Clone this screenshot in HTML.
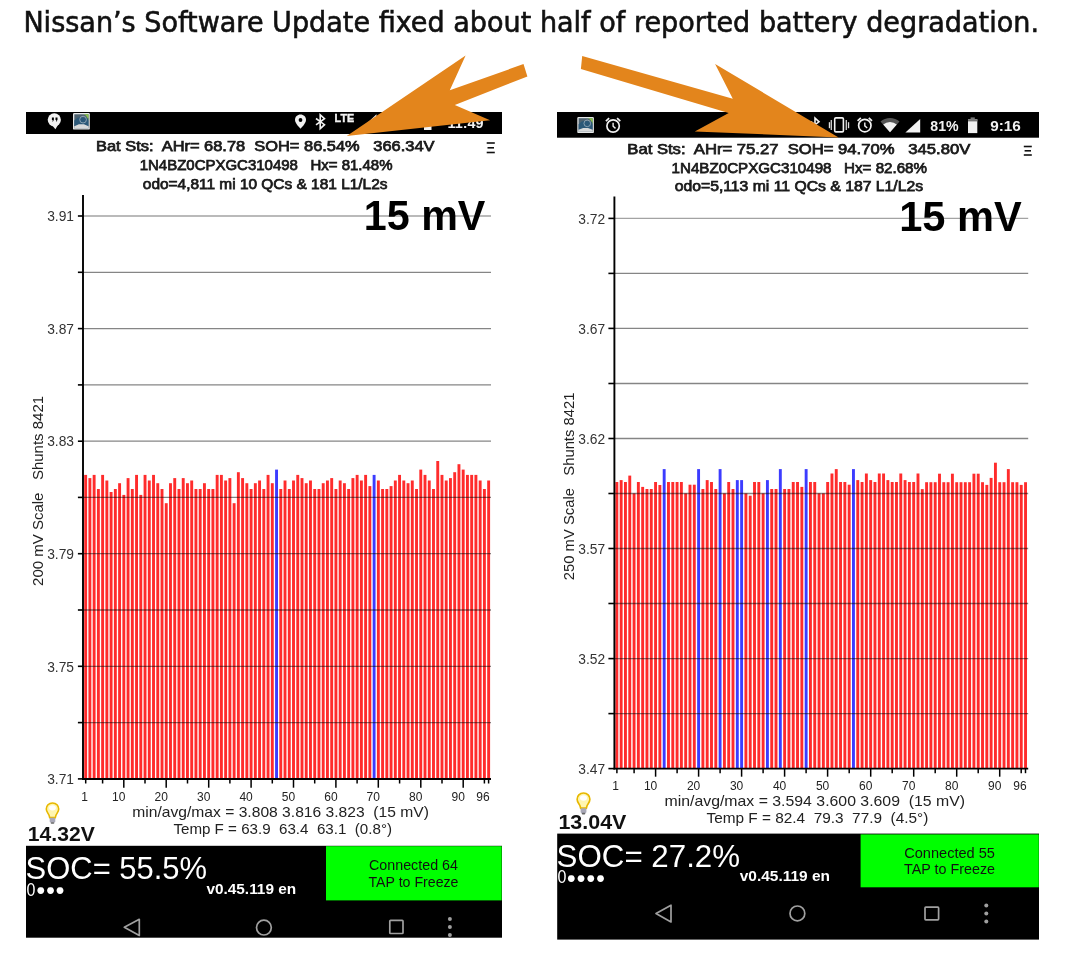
<!DOCTYPE html>
<html><head><meta charset="utf-8"><title>Nissan battery</title><style>html,body{margin:0;padding:0;background:#fff;}body{width:1069px;height:967px;position:relative;overflow:hidden;}text{white-space:pre;}</style></head><body>
<svg width="1069" height="967" viewBox="0 0 1069 967" style="position:absolute;left:0;top:0">
<g font-family="'Liberation Sans', Arial, sans-serif">
<rect x="84.20" y="474.9" width="2.9" height="304.1" fill="#ff2c2c"/>
<rect x="88.44" y="478.1" width="2.9" height="300.9" fill="#ff2c2c"/>
<rect x="92.68" y="474.9" width="2.9" height="304.1" fill="#ff2c2c"/>
<rect x="96.93" y="489.0" width="2.9" height="290.0" fill="#ff2c2c"/>
<rect x="101.17" y="474.9" width="2.9" height="304.1" fill="#ff2c2c"/>
<rect x="105.41" y="480.5" width="2.9" height="298.5" fill="#ff2c2c"/>
<rect x="109.65" y="492.0" width="2.9" height="287.0" fill="#ff2c2c"/>
<rect x="113.89" y="489.0" width="2.9" height="290.0" fill="#ff2c2c"/>
<rect x="118.14" y="483.2" width="2.9" height="295.8" fill="#ff2c2c"/>
<rect x="122.38" y="494.9" width="2.9" height="284.1" fill="#ff2c2c"/>
<rect x="126.62" y="478.1" width="2.9" height="300.9" fill="#ff2c2c"/>
<rect x="130.86" y="489.0" width="2.9" height="290.0" fill="#ff2c2c"/>
<rect x="135.10" y="474.9" width="2.9" height="304.1" fill="#ff2c2c"/>
<rect x="139.35" y="494.9" width="2.9" height="284.1" fill="#ff2c2c"/>
<rect x="143.59" y="474.9" width="2.9" height="304.1" fill="#ff2c2c"/>
<rect x="147.83" y="480.5" width="2.9" height="298.5" fill="#ff2c2c"/>
<rect x="152.07" y="474.9" width="2.9" height="304.1" fill="#ff2c2c"/>
<rect x="156.31" y="483.2" width="2.9" height="295.8" fill="#ff2c2c"/>
<rect x="160.56" y="489.0" width="2.9" height="290.0" fill="#ff2c2c"/>
<rect x="164.80" y="503.2" width="2.9" height="275.8" fill="#ff2c2c"/>
<rect x="169.04" y="483.2" width="2.9" height="295.8" fill="#ff2c2c"/>
<rect x="173.28" y="478.1" width="2.9" height="300.9" fill="#ff2c2c"/>
<rect x="177.52" y="489.0" width="2.9" height="290.0" fill="#ff2c2c"/>
<rect x="181.77" y="478.1" width="2.9" height="300.9" fill="#ff2c2c"/>
<rect x="186.01" y="483.2" width="2.9" height="295.8" fill="#ff2c2c"/>
<rect x="190.25" y="480.5" width="2.9" height="298.5" fill="#ff2c2c"/>
<rect x="194.49" y="489.0" width="2.9" height="290.0" fill="#ff2c2c"/>
<rect x="198.73" y="489.0" width="2.9" height="290.0" fill="#ff2c2c"/>
<rect x="202.98" y="483.2" width="2.9" height="295.8" fill="#ff2c2c"/>
<rect x="207.22" y="489.0" width="2.9" height="290.0" fill="#ff2c2c"/>
<rect x="211.46" y="489.0" width="2.9" height="290.0" fill="#ff2c2c"/>
<rect x="215.70" y="474.9" width="2.9" height="304.1" fill="#ff2c2c"/>
<rect x="219.94" y="474.9" width="2.9" height="304.1" fill="#ff2c2c"/>
<rect x="224.19" y="480.5" width="2.9" height="298.5" fill="#ff2c2c"/>
<rect x="228.43" y="478.1" width="2.9" height="300.9" fill="#ff2c2c"/>
<rect x="232.67" y="503.2" width="2.9" height="275.8" fill="#ff2c2c"/>
<rect x="236.91" y="472.2" width="2.9" height="306.8" fill="#ff2c2c"/>
<rect x="241.15" y="478.1" width="2.9" height="300.9" fill="#ff2c2c"/>
<rect x="245.40" y="483.2" width="2.9" height="295.8" fill="#ff2c2c"/>
<rect x="249.64" y="489.0" width="2.9" height="290.0" fill="#ff2c2c"/>
<rect x="253.88" y="483.2" width="2.9" height="295.8" fill="#ff2c2c"/>
<rect x="258.12" y="480.5" width="2.9" height="298.5" fill="#ff2c2c"/>
<rect x="262.36" y="489.0" width="2.9" height="290.0" fill="#ff2c2c"/>
<rect x="266.61" y="474.9" width="2.9" height="304.1" fill="#ff2c2c"/>
<rect x="270.85" y="483.2" width="2.9" height="295.8" fill="#ff2c2c"/>
<rect x="275.09" y="469.6" width="2.9" height="309.4" fill="#3c3cff"/>
<rect x="279.33" y="489.0" width="2.9" height="290.0" fill="#ff2c2c"/>
<rect x="283.57" y="480.5" width="2.9" height="298.5" fill="#ff2c2c"/>
<rect x="287.82" y="489.0" width="2.9" height="290.0" fill="#ff2c2c"/>
<rect x="292.06" y="480.5" width="2.9" height="298.5" fill="#ff2c2c"/>
<rect x="296.30" y="474.9" width="2.9" height="304.1" fill="#ff2c2c"/>
<rect x="300.54" y="478.1" width="2.9" height="300.9" fill="#ff2c2c"/>
<rect x="304.78" y="483.2" width="2.9" height="295.8" fill="#ff2c2c"/>
<rect x="309.03" y="480.5" width="2.9" height="298.5" fill="#ff2c2c"/>
<rect x="313.27" y="489.0" width="2.9" height="290.0" fill="#ff2c2c"/>
<rect x="317.51" y="489.0" width="2.9" height="290.0" fill="#ff2c2c"/>
<rect x="321.75" y="483.2" width="2.9" height="295.8" fill="#ff2c2c"/>
<rect x="325.99" y="480.5" width="2.9" height="298.5" fill="#ff2c2c"/>
<rect x="330.24" y="478.1" width="2.9" height="300.9" fill="#ff2c2c"/>
<rect x="334.48" y="489.0" width="2.9" height="290.0" fill="#ff2c2c"/>
<rect x="338.72" y="480.5" width="2.9" height="298.5" fill="#ff2c2c"/>
<rect x="342.96" y="483.2" width="2.9" height="295.8" fill="#ff2c2c"/>
<rect x="347.20" y="489.0" width="2.9" height="290.0" fill="#ff2c2c"/>
<rect x="351.45" y="478.1" width="2.9" height="300.9" fill="#ff2c2c"/>
<rect x="355.69" y="474.9" width="2.9" height="304.1" fill="#ff2c2c"/>
<rect x="359.93" y="480.5" width="2.9" height="298.5" fill="#ff2c2c"/>
<rect x="364.17" y="474.9" width="2.9" height="304.1" fill="#ff2c2c"/>
<rect x="368.41" y="486.1" width="2.9" height="292.9" fill="#ff2c2c"/>
<rect x="372.66" y="474.9" width="2.9" height="304.1" fill="#3c3cff"/>
<rect x="376.90" y="480.5" width="2.9" height="298.5" fill="#ff2c2c"/>
<rect x="381.14" y="489.0" width="2.9" height="290.0" fill="#ff2c2c"/>
<rect x="385.38" y="489.0" width="2.9" height="290.0" fill="#ff2c2c"/>
<rect x="389.62" y="486.1" width="2.9" height="292.9" fill="#ff2c2c"/>
<rect x="393.87" y="480.5" width="2.9" height="298.5" fill="#ff2c2c"/>
<rect x="398.11" y="474.9" width="2.9" height="304.1" fill="#ff2c2c"/>
<rect x="402.35" y="480.5" width="2.9" height="298.5" fill="#ff2c2c"/>
<rect x="406.59" y="483.2" width="2.9" height="295.8" fill="#ff2c2c"/>
<rect x="410.83" y="480.5" width="2.9" height="298.5" fill="#ff2c2c"/>
<rect x="415.08" y="489.0" width="2.9" height="290.0" fill="#ff2c2c"/>
<rect x="419.32" y="469.6" width="2.9" height="309.4" fill="#ff2c2c"/>
<rect x="423.56" y="474.9" width="2.9" height="304.1" fill="#ff2c2c"/>
<rect x="427.80" y="480.5" width="2.9" height="298.5" fill="#ff2c2c"/>
<rect x="432.04" y="489.0" width="2.9" height="290.0" fill="#ff2c2c"/>
<rect x="436.29" y="461.0" width="2.9" height="318.0" fill="#ff2c2c"/>
<rect x="440.53" y="474.9" width="2.9" height="304.1" fill="#ff2c2c"/>
<rect x="444.77" y="480.5" width="2.9" height="298.5" fill="#ff2c2c"/>
<rect x="449.01" y="478.1" width="2.9" height="300.9" fill="#ff2c2c"/>
<rect x="453.25" y="472.2" width="2.9" height="306.8" fill="#ff2c2c"/>
<rect x="457.50" y="464.2" width="2.9" height="314.8" fill="#ff2c2c"/>
<rect x="461.74" y="469.6" width="2.9" height="309.4" fill="#ff2c2c"/>
<rect x="465.98" y="474.9" width="2.9" height="304.1" fill="#ff2c2c"/>
<rect x="470.22" y="474.9" width="2.9" height="304.1" fill="#ff2c2c"/>
<rect x="474.46" y="474.9" width="2.9" height="304.1" fill="#ff2c2c"/>
<rect x="478.71" y="480.5" width="2.9" height="298.5" fill="#ff2c2c"/>
<rect x="482.95" y="489.0" width="2.9" height="290.0" fill="#ff2c2c"/>
<rect x="487.19" y="480.5" width="2.9" height="298.5" fill="#ff2c2c"/>
<line x1="83" y1="216.0" x2="491" y2="216.0" stroke="rgba(0,0,0,0.36)" stroke-width="1.3"/>
<line x1="83" y1="272.3" x2="491" y2="272.3" stroke="rgba(0,0,0,0.48)" stroke-width="1.3"/>
<line x1="83" y1="328.6" x2="491" y2="328.6" stroke="rgba(0,0,0,0.48)" stroke-width="1.3"/>
<line x1="83" y1="384.9" x2="491" y2="384.9" stroke="rgba(0,0,0,0.48)" stroke-width="1.3"/>
<line x1="83" y1="441.2" x2="491" y2="441.2" stroke="rgba(0,0,0,0.48)" stroke-width="1.3"/>
<line x1="83" y1="497.4" x2="491" y2="497.4" stroke="rgba(0,0,0,0.48)" stroke-width="1.3"/>
<line x1="83" y1="553.7" x2="491" y2="553.7" stroke="rgba(0,0,0,0.48)" stroke-width="1.3"/>
<line x1="83" y1="610.0" x2="491" y2="610.0" stroke="rgba(0,0,0,0.48)" stroke-width="1.3"/>
<line x1="83" y1="666.3" x2="491" y2="666.3" stroke="rgba(0,0,0,0.48)" stroke-width="1.3"/>
<line x1="83" y1="722.6" x2="491" y2="722.6" stroke="rgba(0,0,0,0.48)" stroke-width="1.3"/>
<line x1="77.9" y1="216.0" x2="83" y2="216.0" stroke="#000" stroke-width="1.6"/>
<text x="74.0" y="221.2" font-size="13.8" font-weight="normal" fill="#333" text-anchor="end">3.91</text>
<line x1="77.9" y1="272.3" x2="83" y2="272.3" stroke="#000" stroke-width="1.6"/>
<line x1="77.9" y1="328.6" x2="83" y2="328.6" stroke="#000" stroke-width="1.6"/>
<text x="74.0" y="333.8" font-size="13.8" font-weight="normal" fill="#333" text-anchor="end">3.87</text>
<line x1="77.9" y1="384.9" x2="83" y2="384.9" stroke="#000" stroke-width="1.6"/>
<line x1="77.9" y1="441.2" x2="83" y2="441.2" stroke="#000" stroke-width="1.6"/>
<text x="74.0" y="446.4" font-size="13.8" font-weight="normal" fill="#333" text-anchor="end">3.83</text>
<line x1="77.9" y1="497.4" x2="83" y2="497.4" stroke="#000" stroke-width="1.6"/>
<line x1="77.9" y1="553.7" x2="83" y2="553.7" stroke="#000" stroke-width="1.6"/>
<text x="74.0" y="558.9" font-size="13.8" font-weight="normal" fill="#333" text-anchor="end">3.79</text>
<line x1="77.9" y1="610.0" x2="83" y2="610.0" stroke="#000" stroke-width="1.6"/>
<line x1="77.9" y1="666.3" x2="83" y2="666.3" stroke="#000" stroke-width="1.6"/>
<text x="74.0" y="671.5" font-size="13.8" font-weight="normal" fill="#333" text-anchor="end">3.75</text>
<line x1="77.9" y1="722.6" x2="83" y2="722.6" stroke="#000" stroke-width="1.6"/>
<line x1="77.9" y1="778.9" x2="83" y2="778.9" stroke="#000" stroke-width="1.6"/>
<text x="74.0" y="784.1" font-size="13.8" font-weight="normal" fill="#333" text-anchor="end">3.71</text>
<line x1="83" y1="195" x2="83" y2="779.8" stroke="#000" stroke-width="1.9"/>
<line x1="82.1" y1="779.0" x2="491" y2="779.0" stroke="#000" stroke-width="1.8"/>
<line x1="85.7" y1="779.0" x2="85.7" y2="783.5" stroke="#000" stroke-width="1.5"/>
<line x1="102.6" y1="779.0" x2="102.6" y2="783.5" stroke="#000" stroke-width="1.5"/>
<line x1="123.8" y1="779.0" x2="123.8" y2="787.7" stroke="#000" stroke-width="1.5"/>
<line x1="145.0" y1="779.0" x2="145.0" y2="783.5" stroke="#000" stroke-width="1.5"/>
<line x1="166.2" y1="779.0" x2="166.2" y2="787.7" stroke="#000" stroke-width="1.5"/>
<line x1="187.5" y1="779.0" x2="187.5" y2="783.5" stroke="#000" stroke-width="1.5"/>
<line x1="208.7" y1="779.0" x2="208.7" y2="787.7" stroke="#000" stroke-width="1.5"/>
<line x1="229.9" y1="779.0" x2="229.9" y2="783.5" stroke="#000" stroke-width="1.5"/>
<line x1="251.1" y1="779.0" x2="251.1" y2="787.7" stroke="#000" stroke-width="1.5"/>
<line x1="272.3" y1="779.0" x2="272.3" y2="783.5" stroke="#000" stroke-width="1.5"/>
<line x1="293.5" y1="779.0" x2="293.5" y2="787.7" stroke="#000" stroke-width="1.5"/>
<line x1="314.7" y1="779.0" x2="314.7" y2="783.5" stroke="#000" stroke-width="1.5"/>
<line x1="335.9" y1="779.0" x2="335.9" y2="787.7" stroke="#000" stroke-width="1.5"/>
<line x1="357.1" y1="779.0" x2="357.1" y2="783.5" stroke="#000" stroke-width="1.5"/>
<line x1="378.3" y1="779.0" x2="378.3" y2="787.7" stroke="#000" stroke-width="1.5"/>
<line x1="399.6" y1="779.0" x2="399.6" y2="783.5" stroke="#000" stroke-width="1.5"/>
<line x1="420.8" y1="779.0" x2="420.8" y2="787.7" stroke="#000" stroke-width="1.5"/>
<line x1="442.0" y1="779.0" x2="442.0" y2="783.5" stroke="#000" stroke-width="1.5"/>
<line x1="463.2" y1="779.0" x2="463.2" y2="787.7" stroke="#000" stroke-width="1.5"/>
<line x1="484.4" y1="779.0" x2="484.4" y2="783.5" stroke="#000" stroke-width="1.5"/>
<line x1="488.6" y1="779.0" x2="488.6" y2="783.5" stroke="#000" stroke-width="1.5"/>
<text x="84.5" y="800.5" font-size="12" font-weight="normal" fill="#222" text-anchor="middle">1</text>
<text x="118.8" y="800.5" font-size="12" font-weight="normal" fill="#222" text-anchor="middle">10</text>
<text x="161.2" y="800.5" font-size="12" font-weight="normal" fill="#222" text-anchor="middle">20</text>
<text x="203.7" y="800.5" font-size="12" font-weight="normal" fill="#222" text-anchor="middle">30</text>
<text x="246.1" y="800.5" font-size="12" font-weight="normal" fill="#222" text-anchor="middle">40</text>
<text x="288.5" y="800.5" font-size="12" font-weight="normal" fill="#222" text-anchor="middle">50</text>
<text x="330.9" y="800.5" font-size="12" font-weight="normal" fill="#222" text-anchor="middle">60</text>
<text x="373.3" y="800.5" font-size="12" font-weight="normal" fill="#222" text-anchor="middle">70</text>
<text x="415.8" y="800.5" font-size="12" font-weight="normal" fill="#222" text-anchor="middle">80</text>
<text x="458.2" y="800.5" font-size="12" font-weight="normal" fill="#222" text-anchor="middle">90</text>
<text x="483.0" y="800.5" font-size="12" font-weight="normal" fill="#222" text-anchor="middle">96</text>
<text transform="translate(43.4,490.9) rotate(-90)" x="0" y="0" font-size="14" fill="#222" text-anchor="middle" textLength="190.0" lengthAdjust="spacingAndGlyphs" style="white-space:pre">200 mV Scale   Shunts 8421</text>
<rect x="615.40" y="482.0" width="2.9" height="286.6" fill="#ff2c2c"/>
<rect x="619.70" y="480.1" width="2.9" height="288.5" fill="#ff2c2c"/>
<rect x="624.00" y="482.0" width="2.9" height="286.6" fill="#ff2c2c"/>
<rect x="628.31" y="475.6" width="2.9" height="293.0" fill="#ff2c2c"/>
<rect x="632.61" y="493.4" width="2.9" height="275.2" fill="#ff2c2c"/>
<rect x="636.91" y="482.0" width="2.9" height="286.6" fill="#ff2c2c"/>
<rect x="641.21" y="486.9" width="2.9" height="281.7" fill="#ff2c2c"/>
<rect x="645.51" y="489.0" width="2.9" height="279.6" fill="#ff2c2c"/>
<rect x="649.82" y="489.0" width="2.9" height="279.6" fill="#ff2c2c"/>
<rect x="654.12" y="482.0" width="2.9" height="286.6" fill="#ff2c2c"/>
<rect x="658.42" y="485.0" width="2.9" height="283.6" fill="#ff2c2c"/>
<rect x="662.72" y="469.1" width="2.9" height="299.5" fill="#3c3cff"/>
<rect x="667.02" y="482.0" width="2.9" height="286.6" fill="#ff2c2c"/>
<rect x="671.33" y="482.0" width="2.9" height="286.6" fill="#ff2c2c"/>
<rect x="675.63" y="482.0" width="2.9" height="286.6" fill="#ff2c2c"/>
<rect x="679.93" y="482.0" width="2.9" height="286.6" fill="#ff2c2c"/>
<rect x="684.23" y="493.4" width="2.9" height="275.2" fill="#ff2c2c"/>
<rect x="688.53" y="484.7" width="2.9" height="283.9" fill="#ff2c2c"/>
<rect x="692.84" y="484.7" width="2.9" height="283.9" fill="#ff2c2c"/>
<rect x="697.14" y="469.1" width="2.9" height="299.5" fill="#3c3cff"/>
<rect x="701.44" y="489.0" width="2.9" height="279.6" fill="#ff2c2c"/>
<rect x="705.74" y="480.1" width="2.9" height="288.5" fill="#ff2c2c"/>
<rect x="710.04" y="482.0" width="2.9" height="286.6" fill="#ff2c2c"/>
<rect x="714.35" y="489.0" width="2.9" height="279.6" fill="#ff2c2c"/>
<rect x="718.65" y="469.1" width="2.9" height="299.5" fill="#3c3cff"/>
<rect x="722.95" y="493.4" width="2.9" height="275.2" fill="#ff2c2c"/>
<rect x="727.25" y="482.0" width="2.9" height="286.6" fill="#ff2c2c"/>
<rect x="731.55" y="489.0" width="2.9" height="279.6" fill="#ff2c2c"/>
<rect x="735.86" y="480.1" width="2.9" height="288.5" fill="#3c3cff"/>
<rect x="740.16" y="480.1" width="2.9" height="288.5" fill="#3c3cff"/>
<rect x="744.46" y="493.4" width="2.9" height="275.2" fill="#ff2c2c"/>
<rect x="748.76" y="495.7" width="2.9" height="272.9" fill="#ff2c2c"/>
<rect x="753.06" y="482.0" width="2.9" height="286.6" fill="#ff2c2c"/>
<rect x="757.37" y="482.0" width="2.9" height="286.6" fill="#ff2c2c"/>
<rect x="761.67" y="493.4" width="2.9" height="275.2" fill="#ff2c2c"/>
<rect x="765.97" y="480.1" width="2.9" height="288.5" fill="#3c3cff"/>
<rect x="770.27" y="489.0" width="2.9" height="279.6" fill="#ff2c2c"/>
<rect x="774.57" y="489.0" width="2.9" height="279.6" fill="#ff2c2c"/>
<rect x="778.88" y="469.1" width="2.9" height="299.5" fill="#3c3cff"/>
<rect x="783.18" y="489.0" width="2.9" height="279.6" fill="#ff2c2c"/>
<rect x="787.48" y="489.0" width="2.9" height="279.6" fill="#ff2c2c"/>
<rect x="791.78" y="482.0" width="2.9" height="286.6" fill="#ff2c2c"/>
<rect x="796.08" y="482.0" width="2.9" height="286.6" fill="#ff2c2c"/>
<rect x="800.39" y="486.9" width="2.9" height="281.7" fill="#ff2c2c"/>
<rect x="804.69" y="469.1" width="2.9" height="299.5" fill="#3c3cff"/>
<rect x="808.99" y="482.0" width="2.9" height="286.6" fill="#ff2c2c"/>
<rect x="813.29" y="482.0" width="2.9" height="286.6" fill="#ff2c2c"/>
<rect x="817.59" y="493.4" width="2.9" height="275.2" fill="#ff2c2c"/>
<rect x="821.90" y="493.4" width="2.9" height="275.2" fill="#ff2c2c"/>
<rect x="826.20" y="482.0" width="2.9" height="286.6" fill="#ff2c2c"/>
<rect x="830.50" y="473.5" width="2.9" height="295.1" fill="#ff2c2c"/>
<rect x="834.80" y="469.1" width="2.9" height="299.5" fill="#ff2c2c"/>
<rect x="839.10" y="482.0" width="2.9" height="286.6" fill="#ff2c2c"/>
<rect x="843.41" y="482.0" width="2.9" height="286.6" fill="#ff2c2c"/>
<rect x="847.71" y="484.7" width="2.9" height="283.9" fill="#ff2c2c"/>
<rect x="852.01" y="469.1" width="2.9" height="299.5" fill="#3c3cff"/>
<rect x="856.31" y="480.1" width="2.9" height="288.5" fill="#ff2c2c"/>
<rect x="860.61" y="482.0" width="2.9" height="286.6" fill="#ff2c2c"/>
<rect x="864.92" y="473.5" width="2.9" height="295.1" fill="#ff2c2c"/>
<rect x="869.22" y="480.1" width="2.9" height="288.5" fill="#ff2c2c"/>
<rect x="873.52" y="482.0" width="2.9" height="286.6" fill="#ff2c2c"/>
<rect x="877.82" y="473.5" width="2.9" height="295.1" fill="#ff2c2c"/>
<rect x="882.12" y="473.5" width="2.9" height="295.1" fill="#ff2c2c"/>
<rect x="886.43" y="480.1" width="2.9" height="288.5" fill="#ff2c2c"/>
<rect x="890.73" y="482.0" width="2.9" height="286.6" fill="#ff2c2c"/>
<rect x="895.03" y="482.0" width="2.9" height="286.6" fill="#ff2c2c"/>
<rect x="899.33" y="473.5" width="2.9" height="295.1" fill="#ff2c2c"/>
<rect x="903.63" y="480.1" width="2.9" height="288.5" fill="#ff2c2c"/>
<rect x="907.94" y="482.0" width="2.9" height="286.6" fill="#ff2c2c"/>
<rect x="912.24" y="482.0" width="2.9" height="286.6" fill="#ff2c2c"/>
<rect x="916.54" y="473.5" width="2.9" height="295.1" fill="#ff2c2c"/>
<rect x="920.84" y="489.1" width="2.9" height="279.5" fill="#ff2c2c"/>
<rect x="925.14" y="482.2" width="2.9" height="286.4" fill="#ff2c2c"/>
<rect x="929.45" y="482.2" width="2.9" height="286.4" fill="#ff2c2c"/>
<rect x="933.75" y="482.2" width="2.9" height="286.4" fill="#ff2c2c"/>
<rect x="938.05" y="473.7" width="2.9" height="294.9" fill="#ff2c2c"/>
<rect x="942.35" y="482.2" width="2.9" height="286.4" fill="#ff2c2c"/>
<rect x="946.65" y="482.2" width="2.9" height="286.4" fill="#ff2c2c"/>
<rect x="950.96" y="473.7" width="2.9" height="294.9" fill="#ff2c2c"/>
<rect x="955.26" y="482.2" width="2.9" height="286.4" fill="#ff2c2c"/>
<rect x="959.56" y="482.2" width="2.9" height="286.4" fill="#ff2c2c"/>
<rect x="963.86" y="482.2" width="2.9" height="286.4" fill="#ff2c2c"/>
<rect x="968.16" y="482.2" width="2.9" height="286.4" fill="#ff2c2c"/>
<rect x="972.47" y="473.7" width="2.9" height="294.9" fill="#ff2c2c"/>
<rect x="976.77" y="473.7" width="2.9" height="294.9" fill="#ff2c2c"/>
<rect x="981.07" y="482.2" width="2.9" height="286.4" fill="#ff2c2c"/>
<rect x="985.37" y="484.9" width="2.9" height="283.7" fill="#ff2c2c"/>
<rect x="989.67" y="477.9" width="2.9" height="290.7" fill="#ff2c2c"/>
<rect x="993.98" y="462.7" width="2.9" height="305.9" fill="#ff2c2c"/>
<rect x="998.28" y="482.2" width="2.9" height="286.4" fill="#ff2c2c"/>
<rect x="1002.58" y="482.2" width="2.9" height="286.4" fill="#ff2c2c"/>
<rect x="1006.88" y="469.1" width="2.9" height="299.5" fill="#ff2c2c"/>
<rect x="1011.18" y="482.2" width="2.9" height="286.4" fill="#ff2c2c"/>
<rect x="1015.49" y="482.2" width="2.9" height="286.4" fill="#ff2c2c"/>
<rect x="1019.79" y="484.9" width="2.9" height="283.7" fill="#ff2c2c"/>
<rect x="1024.09" y="482.2" width="2.9" height="286.4" fill="#ff2c2c"/>
<line x1="614.4" y1="218.4" x2="1028.2" y2="218.4" stroke="rgba(0,0,0,0.36)" stroke-width="1.3"/>
<line x1="614.4" y1="273.4" x2="1028.2" y2="273.4" stroke="rgba(0,0,0,0.48)" stroke-width="1.3"/>
<line x1="614.4" y1="328.4" x2="1028.2" y2="328.4" stroke="rgba(0,0,0,0.48)" stroke-width="1.3"/>
<line x1="614.4" y1="383.5" x2="1028.2" y2="383.5" stroke="rgba(0,0,0,0.48)" stroke-width="1.3"/>
<line x1="614.4" y1="438.5" x2="1028.2" y2="438.5" stroke="rgba(0,0,0,0.48)" stroke-width="1.3"/>
<line x1="614.4" y1="493.5" x2="1028.2" y2="493.5" stroke="rgba(0,0,0,0.48)" stroke-width="1.3"/>
<line x1="614.4" y1="548.5" x2="1028.2" y2="548.5" stroke="rgba(0,0,0,0.48)" stroke-width="1.3"/>
<line x1="614.4" y1="603.5" x2="1028.2" y2="603.5" stroke="rgba(0,0,0,0.48)" stroke-width="1.3"/>
<line x1="614.4" y1="658.6" x2="1028.2" y2="658.6" stroke="rgba(0,0,0,0.48)" stroke-width="1.3"/>
<line x1="614.4" y1="713.6" x2="1028.2" y2="713.6" stroke="rgba(0,0,0,0.48)" stroke-width="1.3"/>
<line x1="608.4" y1="218.4" x2="614.4" y2="218.4" stroke="#000" stroke-width="1.6"/>
<text x="605.2" y="223.6" font-size="13.8" font-weight="normal" fill="#333" text-anchor="end">3.72</text>
<line x1="608.4" y1="273.4" x2="614.4" y2="273.4" stroke="#000" stroke-width="1.6"/>
<line x1="608.4" y1="328.4" x2="614.4" y2="328.4" stroke="#000" stroke-width="1.6"/>
<text x="605.2" y="333.6" font-size="13.8" font-weight="normal" fill="#333" text-anchor="end">3.67</text>
<line x1="608.4" y1="383.5" x2="614.4" y2="383.5" stroke="#000" stroke-width="1.6"/>
<line x1="608.4" y1="438.5" x2="614.4" y2="438.5" stroke="#000" stroke-width="1.6"/>
<text x="605.2" y="443.7" font-size="13.8" font-weight="normal" fill="#333" text-anchor="end">3.62</text>
<line x1="608.4" y1="493.5" x2="614.4" y2="493.5" stroke="#000" stroke-width="1.6"/>
<line x1="608.4" y1="548.5" x2="614.4" y2="548.5" stroke="#000" stroke-width="1.6"/>
<text x="605.2" y="553.7" font-size="13.8" font-weight="normal" fill="#333" text-anchor="end">3.57</text>
<line x1="608.4" y1="603.5" x2="614.4" y2="603.5" stroke="#000" stroke-width="1.6"/>
<line x1="608.4" y1="658.6" x2="614.4" y2="658.6" stroke="#000" stroke-width="1.6"/>
<text x="605.2" y="663.8" font-size="13.8" font-weight="normal" fill="#333" text-anchor="end">3.52</text>
<line x1="608.4" y1="713.6" x2="614.4" y2="713.6" stroke="#000" stroke-width="1.6"/>
<line x1="608.4" y1="768.6" x2="614.4" y2="768.6" stroke="#000" stroke-width="1.6"/>
<text x="605.2" y="773.8" font-size="13.8" font-weight="normal" fill="#333" text-anchor="end">3.47</text>
<line x1="614.4" y1="196.6" x2="614.4" y2="769.4" stroke="#000" stroke-width="1.9"/>
<line x1="613.5" y1="768.6" x2="1028.2" y2="768.6" stroke="#000" stroke-width="1.8"/>
<line x1="616.9" y1="768.6" x2="616.9" y2="773.2" stroke="#000" stroke-width="1.5"/>
<line x1="634.1" y1="768.6" x2="634.1" y2="773.2" stroke="#000" stroke-width="1.5"/>
<line x1="655.6" y1="768.6" x2="655.6" y2="776.7" stroke="#000" stroke-width="1.5"/>
<line x1="677.1" y1="768.6" x2="677.1" y2="773.2" stroke="#000" stroke-width="1.5"/>
<line x1="698.6" y1="768.6" x2="698.6" y2="776.7" stroke="#000" stroke-width="1.5"/>
<line x1="720.1" y1="768.6" x2="720.1" y2="773.2" stroke="#000" stroke-width="1.5"/>
<line x1="741.6" y1="768.6" x2="741.6" y2="776.7" stroke="#000" stroke-width="1.5"/>
<line x1="763.1" y1="768.6" x2="763.1" y2="773.2" stroke="#000" stroke-width="1.5"/>
<line x1="784.6" y1="768.6" x2="784.6" y2="776.7" stroke="#000" stroke-width="1.5"/>
<line x1="806.1" y1="768.6" x2="806.1" y2="773.2" stroke="#000" stroke-width="1.5"/>
<line x1="827.6" y1="768.6" x2="827.6" y2="776.7" stroke="#000" stroke-width="1.5"/>
<line x1="849.2" y1="768.6" x2="849.2" y2="773.2" stroke="#000" stroke-width="1.5"/>
<line x1="870.7" y1="768.6" x2="870.7" y2="776.7" stroke="#000" stroke-width="1.5"/>
<line x1="892.2" y1="768.6" x2="892.2" y2="773.2" stroke="#000" stroke-width="1.5"/>
<line x1="913.7" y1="768.6" x2="913.7" y2="776.7" stroke="#000" stroke-width="1.5"/>
<line x1="935.2" y1="768.6" x2="935.2" y2="773.2" stroke="#000" stroke-width="1.5"/>
<line x1="956.7" y1="768.6" x2="956.7" y2="776.7" stroke="#000" stroke-width="1.5"/>
<line x1="978.2" y1="768.6" x2="978.2" y2="773.2" stroke="#000" stroke-width="1.5"/>
<line x1="999.7" y1="768.6" x2="999.7" y2="776.7" stroke="#000" stroke-width="1.5"/>
<line x1="1021.2" y1="768.6" x2="1021.2" y2="773.2" stroke="#000" stroke-width="1.5"/>
<line x1="1025.5" y1="768.6" x2="1025.5" y2="773.2" stroke="#000" stroke-width="1.5"/>
<text x="615.6" y="790.0" font-size="12" font-weight="normal" fill="#222" text-anchor="middle">1</text>
<text x="650.6" y="790.0" font-size="12" font-weight="normal" fill="#222" text-anchor="middle">10</text>
<text x="693.6" y="790.0" font-size="12" font-weight="normal" fill="#222" text-anchor="middle">20</text>
<text x="736.6" y="790.0" font-size="12" font-weight="normal" fill="#222" text-anchor="middle">30</text>
<text x="779.6" y="790.0" font-size="12" font-weight="normal" fill="#222" text-anchor="middle">40</text>
<text x="822.6" y="790.0" font-size="12" font-weight="normal" fill="#222" text-anchor="middle">50</text>
<text x="865.7" y="790.0" font-size="12" font-weight="normal" fill="#222" text-anchor="middle">60</text>
<text x="908.7" y="790.0" font-size="12" font-weight="normal" fill="#222" text-anchor="middle">70</text>
<text x="951.7" y="790.0" font-size="12" font-weight="normal" fill="#222" text-anchor="middle">80</text>
<text x="994.7" y="790.0" font-size="12" font-weight="normal" fill="#222" text-anchor="middle">90</text>
<text x="1020.0" y="790.0" font-size="12" font-weight="normal" fill="#222" text-anchor="middle">96</text>
<text transform="translate(574.4,486.4) rotate(-90)" x="0" y="0" font-size="14" fill="#222" text-anchor="middle" textLength="187.7" lengthAdjust="spacingAndGlyphs" style="white-space:pre">250 mV Scale   Shunts 8421</text>
<text x="96.0" y="151.0" font-size="14.5" font-weight="normal" fill="#1a1a1a" text-anchor="start" textLength="338.5" lengthAdjust="spacingAndGlyphs" stroke="#1a1a1a" stroke-width="0.75" style="white-space:pre">Bat Sts:  AHr= 68.78  SOH= 86.54%   366.34V</text>
<text x="139.7" y="169.8" font-size="14.5" font-weight="normal" fill="#1a1a1a" text-anchor="start" textLength="252.8" lengthAdjust="spacingAndGlyphs" stroke="#1a1a1a" stroke-width="0.75" style="white-space:pre">1N4BZ0CPXGC310498   Hx= 81.48%</text>
<text x="142.8" y="188.9" font-size="14.5" font-weight="normal" fill="#1a1a1a" text-anchor="start" textLength="244.7" lengthAdjust="spacingAndGlyphs" stroke="#1a1a1a" stroke-width="0.75" style="white-space:pre">odo=4,811 mi 10 QCs &amp; 181 L1/L2s</text>
<line x1="486.7" y1="143.0" x2="494.8" y2="143.0" stroke="#111" stroke-width="1.6"/>
<line x1="487.5" y1="147.8" x2="494.0" y2="147.8" stroke="#111" stroke-width="1.6"/>
<line x1="486.7" y1="152.5" x2="494.8" y2="152.5" stroke="#111" stroke-width="1.6"/>
<text x="363.8" y="230.0" font-size="42" font-weight="bold" fill="#000" text-anchor="start" textLength="121.6" lengthAdjust="spacingAndGlyphs">15 mV</text>
<text x="280.6" y="816.8" font-size="14.5" font-weight="normal" fill="#222" text-anchor="middle" textLength="296.6" lengthAdjust="spacingAndGlyphs" style="white-space:pre">min/avg/max = 3.808 3.816 3.823  (15 mV)</text>
<text x="282.7" y="833.6" font-size="14.5" font-weight="normal" fill="#222" text-anchor="middle" textLength="218.6" lengthAdjust="spacingAndGlyphs" style="white-space:pre">Temp F = 63.9  63.4  63.1  (0.8°)</text>
<text x="27.8" y="841.3" font-size="20" font-weight="bold" fill="#111" text-anchor="start" textLength="67.0" lengthAdjust="spacingAndGlyphs">14.32V</text>
<text x="627.3" y="154.0" font-size="14.5" font-weight="normal" fill="#1a1a1a" text-anchor="start" textLength="343.0" lengthAdjust="spacingAndGlyphs" stroke="#1a1a1a" stroke-width="0.75" style="white-space:pre">Bat Sts:  AHr= 75.27  SOH= 94.70%   345.80V</text>
<text x="671.6" y="172.7" font-size="14.5" font-weight="normal" fill="#1a1a1a" text-anchor="start" textLength="255.4" lengthAdjust="spacingAndGlyphs" stroke="#1a1a1a" stroke-width="0.75" style="white-space:pre">1N4BZ0CPXGC310498   Hx= 82.68%</text>
<text x="674.7" y="190.9" font-size="14.5" font-weight="normal" fill="#1a1a1a" text-anchor="start" textLength="248.4" lengthAdjust="spacingAndGlyphs" stroke="#1a1a1a" stroke-width="0.75" style="white-space:pre">odo=5,113 mi 11 QCs &amp; 187 L1/L2s</text>
<line x1="1023.8" y1="146.5" x2="1031.8" y2="146.5" stroke="#111" stroke-width="1.6"/>
<line x1="1024.6" y1="150.8" x2="1031.0" y2="150.8" stroke="#111" stroke-width="1.6"/>
<line x1="1023.8" y1="155.0" x2="1031.8" y2="155.0" stroke="#111" stroke-width="1.6"/>
<text x="899.2" y="231.1" font-size="42" font-weight="bold" fill="#000" text-anchor="start" textLength="122.6" lengthAdjust="spacingAndGlyphs">15 mV</text>
<text x="814.8" y="806.3" font-size="14.5" font-weight="normal" fill="#222" text-anchor="middle" textLength="300.5" lengthAdjust="spacingAndGlyphs" style="white-space:pre">min/avg/max = 3.594 3.600 3.609  (15 mV)</text>
<text x="817.4" y="823.3" font-size="14.5" font-weight="normal" fill="#222" text-anchor="middle" textLength="221.8" lengthAdjust="spacingAndGlyphs" style="white-space:pre">Temp F = 82.4  79.3  77.9  (4.5°)</text>
<text x="558.4" y="828.9" font-size="20" font-weight="bold" fill="#111" text-anchor="start" textLength="68.0" lengthAdjust="spacingAndGlyphs">13.04V</text>
<g transform="translate(45.5,802.2) scale(1.0)"><path d="M7 0.8 C3.2 0.8 0.8 3.6 0.8 6.8 C0.8 9.6 2.6 11 3.6 13.2 L4.2 15.4 L9.8 15.4 L10.4 13.2 C11.4 11 13.2 9.6 13.2 6.8 C13.2 3.6 10.8 0.8 7 0.8 Z" fill="#fff6b0" stroke="#e8b800" stroke-width="1.6"/><ellipse cx="7" cy="5.6" rx="3.4" ry="2.6" fill="#ffffff"/><rect x="4.2" y="15.6" width="5.6" height="4.6" rx="1" fill="#a9a9b8"/><rect x="5.2" y="20" width="3.6" height="1.6" rx="0.8" fill="#666"/></g>
<g transform="translate(576.3,792.2) scale(1.03)"><path d="M7 0.8 C3.2 0.8 0.8 3.6 0.8 6.8 C0.8 9.6 2.6 11 3.6 13.2 L4.2 15.4 L9.8 15.4 L10.4 13.2 C11.4 11 13.2 9.6 13.2 6.8 C13.2 3.6 10.8 0.8 7 0.8 Z" fill="#fff6b0" stroke="#e8b800" stroke-width="1.6"/><ellipse cx="7" cy="5.6" rx="3.4" ry="2.6" fill="#ffffff"/><rect x="4.2" y="15.6" width="5.6" height="4.6" rx="1" fill="#a9a9b8"/><rect x="5.2" y="20" width="3.6" height="1.6" rx="0.8" fill="#666"/></g>
<rect x="26" y="845.8" width="476.0" height="91.9" fill="#000"/>
<rect x="326" y="846.2" width="175.7" height="54.2" fill="#00ff00"/>
<text x="25.6" y="878.7" font-size="31.5" font-weight="normal" fill="#fff" text-anchor="start" textLength="181.5" lengthAdjust="spacingAndGlyphs">SOC= 55.5%</text>
<text x="26.6" y="895.8" font-size="17.5" font-weight="normal" fill="#fff" text-anchor="start" textLength="8.9" lengthAdjust="spacingAndGlyphs">0</text>
<text x="36.0" y="895.2" font-size="15.8" fill="#fff" textLength="28.9" lengthAdjust="spacing">●●●</text>
<text x="206.4" y="893.9" font-size="14.5" font-weight="bold" fill="#fff" text-anchor="start" textLength="89.8" lengthAdjust="spacingAndGlyphs">v0.45.119 en</text>
<text x="413.5" y="869.8" font-size="14" font-weight="normal" fill="#111" text-anchor="middle" textLength="88.9" lengthAdjust="spacingAndGlyphs">Connected 64</text>
<text x="413.5" y="887.1" font-size="14" font-weight="normal" fill="#111" text-anchor="middle" textLength="90.0" lengthAdjust="spacingAndGlyphs">TAP to Freeze</text>
<path d="M124.3 927.3 L139.3 919.3 L139.3 935.4 Z" fill="none" stroke="#a0a0a0" stroke-width="1.7" stroke-linejoin="round"/>
<circle cx="263.9" cy="927.6" r="7.4" fill="none" stroke="#a0a0a0" stroke-width="1.7"/>
<rect x="389.8" y="920.4" width="13.2" height="13.1" fill="none" stroke="#a0a0a0" stroke-width="1.7" rx="0.8"/>
<circle cx="449.9" cy="919" r="2" fill="#a0a0a0"/>
<circle cx="449.9" cy="927.1" r="2" fill="#a0a0a0"/>
<circle cx="449.9" cy="935" r="2" fill="#a0a0a0"/>
<rect x="557.2" y="833.6" width="481.8" height="106.0" fill="#000"/>
<rect x="860.6" y="834.4" width="178.2" height="52.9" fill="#00ff00"/>
<text x="556.6" y="866.7" font-size="31.5" font-weight="normal" fill="#fff" text-anchor="start" textLength="183.5" lengthAdjust="spacingAndGlyphs">SOC= 27.2%</text>
<text x="557.4" y="883.0" font-size="17.5" font-weight="normal" fill="#fff" text-anchor="start" textLength="8.9" lengthAdjust="spacingAndGlyphs">0</text>
<text x="566.6" y="882.6" font-size="15.8" fill="#fff" textLength="38.8" lengthAdjust="spacing">●●●●</text>
<text x="739.7" y="881.3" font-size="14.5" font-weight="bold" fill="#fff" text-anchor="start" textLength="90.3" lengthAdjust="spacingAndGlyphs">v0.45.119 en</text>
<text x="949.6" y="858.0" font-size="14" font-weight="normal" fill="#111" text-anchor="middle" textLength="90.8" lengthAdjust="spacingAndGlyphs">Connected 55</text>
<text x="949.6" y="874.4" font-size="14" font-weight="normal" fill="#111" text-anchor="middle" textLength="91.0" lengthAdjust="spacingAndGlyphs">TAP to Freeze</text>
<path d="M656.0 913.6 L671.0 905.2 L671.0 922.0 Z" fill="none" stroke="#a0a0a0" stroke-width="1.7" stroke-linejoin="round"/>
<circle cx="797.4" cy="913.4" r="7.4" fill="none" stroke="#a0a0a0" stroke-width="1.7"/>
<rect x="925.0" y="907.2" width="13.6" height="12.7" fill="none" stroke="#a0a0a0" stroke-width="1.7" rx="0.8"/>
<circle cx="986.3" cy="905.5" r="2" fill="#a0a0a0"/>
<circle cx="986.3" cy="913.4" r="2" fill="#a0a0a0"/>
<circle cx="986.3" cy="921.6" r="2" fill="#a0a0a0"/>
<rect x="26" y="112" width="476" height="22" fill="#000"/>
<rect x="557" y="112" width="482" height="25.7" fill="#000"/>
<g><circle cx="54.3" cy="119.8" r="6.6" fill="#f2f2f2"/><path d="M51.5 124.5 L55.4 129.2 L58.2 124.5 Z" fill="#f2f2f2"/><path d="M51.9 117.6 h2 v2.2 l-0.9 1.6 h-0.7 l0.5 -1.5 h-0.9 Z" fill="#000"/><path d="M55.5 117.6 h2 v2.2 l-0.9 1.6 h-0.7 l0.5 -1.5 h-0.9 Z" fill="#000"/></g>
<rect x="73.0" y="113.0" width="16.8" height="16.6" fill="#e6e8e8" rx="1.2"/><rect x="74.3" y="114.3" width="14.200000000000001" height="14.000000000000002" fill="#4d6270"/><path d="M74.3 120.47 Q78.04 116.32 82.24000000000001 117.15 L88.5 117.98 L88.5 126.28 L74.3 126.28 Z" fill="#2b5878"/><circle cx="83.08" cy="119.64" r="3.3600000000000003" fill="none" stroke="#9fb3bf" stroke-width="0.8"/><path d="M74.3 126.28 L78.88 124.288 L83.92 124.288 L88.5 126.28 L88.5 128.29999999999998 L74.3 128.29999999999998 Z" fill="#d8dadb"/><path d="M83.416 114.3 L88.5 114.3 L88.5 120.47 Q87.28 115.49 83.416 114.3 Z" fill="#8bc34a"/>
<rect x="577.3" y="116.9" width="16.6" height="16.2" fill="#e6e8e8" rx="1.2"/><rect x="578.5999999999999" y="118.2" width="14.000000000000002" height="13.6" fill="#4d6270"/><path d="M578.5999999999999 124.19000000000001 Q582.28 120.14 586.43 120.95 L592.6 121.76 L592.6 129.86 L578.5999999999999 129.86 Z" fill="#2b5878"/><circle cx="587.26" cy="123.38000000000001" r="3.3200000000000003" fill="none" stroke="#9fb3bf" stroke-width="0.8"/><path d="M578.5999999999999 129.86 L583.1099999999999 127.91600000000001 L588.0899999999999 127.91600000000001 L592.6 129.86 L592.6 131.79999999999998 L578.5999999999999 131.79999999999998 Z" fill="#d8dadb"/><path d="M587.592 118.2 L592.6 118.2 L592.6 124.19000000000001 Q591.41 119.33000000000001 587.592 118.2 Z" fill="#8bc34a"/>
<path d="M300.5 114.6 C297.3 114.6 295 117 295 120 C295 123.6 300.5 128.6 300.5 128.6 C300.5 128.6 306 123.6 306 120 C306 117 303.7 114.6 300.5 114.6 Z" fill="#f2f2f2"/><circle cx="300.5" cy="120" r="1.9" fill="#000"/>
<path d="M316.0 118.5 L324.5 124.7 L320.2 128.6 L320.2 114.8 L324.5 118.7 L316.0 124.9" fill="none" stroke="#f2f2f2" stroke-width="1.6" stroke-linejoin="miter"/>
<path d="M811.0 121.6 L819.0 127.7 L815.0 131.5 L815.0 118.0 L819.0 121.8 L811.0 127.9" fill="none" stroke="#f2f2f2" stroke-width="1.6" stroke-linejoin="miter"/>
<text x="334.6" y="121.6" font-size="11.5" font-weight="bold" fill="#f2f2f2" text-anchor="start" textLength="19.6" lengthAdjust="spacingAndGlyphs" stroke="#f2f2f2" stroke-width="0.4">LTE</text>
<path d="M360 130 L376.5 114.3 L376.5 130 Z" fill="#f2f2f2"/>
<rect x="424" y="116.5" width="7.5" height="13.5" fill="#f2f2f2"/><rect x="426" y="114.8" width="3.5" height="2" fill="#f2f2f2"/>
<text x="447.6" y="127.6" font-size="15.5" font-weight="bold" fill="#f2f2f2" text-anchor="start" textLength="36.0" lengthAdjust="spacingAndGlyphs">11:49</text>
<circle cx="613.1" cy="126.0" r="6.2" fill="none" stroke="#f2f2f2" stroke-width="1.7"/><path d="M613.1 122.80000000000001 L613.1 126.30000000000001 L615.5 128.4" fill="none" stroke="#f2f2f2" stroke-width="1.4"/><path d="M605.9 121.2 L609.1 118.2" stroke="#f2f2f2" stroke-width="1.7"/><path d="M620.3000000000001 121.2 L617.1 118.2" stroke="#f2f2f2" stroke-width="1.7"/>
<circle cx="864.8" cy="125.6" r="6.2" fill="none" stroke="#f2f2f2" stroke-width="1.7"/><path d="M864.8 122.4 L864.8 125.9 L867.1999999999999 128.0" fill="none" stroke="#f2f2f2" stroke-width="1.4"/><path d="M857.5999999999999 120.8 L860.8 117.8" stroke="#f2f2f2" stroke-width="1.7"/><path d="M872.0 120.8 L868.8 117.8" stroke="#f2f2f2" stroke-width="1.7"/>
<rect x="834.7" y="117.9" width="8.7" height="14" rx="1.2" fill="none" stroke="#f2f2f2" stroke-width="1.6"/><rect x="830.6" y="120" width="1.4" height="10" fill="#c8c8c8"/><rect x="845.6" y="120" width="1.4" height="10" fill="#c8c8c8"/><rect x="828.8" y="122.2" width="1.3" height="6" fill="#e0e0e0"/><rect x="847.9" y="122.2" width="1.3" height="6" fill="#e0e0e0"/>
<path d="M880.5 121.6 A14 14 0 0 1 899.5 121.6 L890 132.2 Z" fill="#555"/><path d="M883.2 124.6 A10 10 0 0 1 896.8 124.6 L890 132.2 Z" fill="#f2f2f2"/>
<path d="M905.4 132.6 L920.2 119.1 L920.2 132.6 Z" fill="#f2f2f2"/>
<text x="930.3" y="131.4" font-size="15.5" font-weight="bold" fill="#f2f2f2" text-anchor="start" textLength="28.3" lengthAdjust="spacingAndGlyphs">81%</text>
<rect x="968" y="119.2" width="9.3" height="13.9" fill="#f2f2f2"/><rect x="970.6" y="117.4" width="4.2" height="2" fill="#777"/><rect x="968" y="119.2" width="9.3" height="2.2" fill="#777"/>
<text x="990.2" y="131.4" font-size="15.5" font-weight="bold" fill="#f2f2f2" text-anchor="start" textLength="30.6" lengthAdjust="spacingAndGlyphs">9:16</text>
<polygon points="346.7,135.9 465.6,55.5 449.8,90.3 523.5,64.1 527.4,76.5 454.8,105 490.1,120.3" fill="#e3851c"/>
<polygon points="838.6,137.4 715.1,64.1 732.8,98.8 582.2,56 580.9,69 728.7,113 694.8,131.4" fill="#e3851c"/>
<text x="23.4" y="31.8" font-family="'DejaVu Sans', sans-serif" font-size="28" fill="#111" stroke="#111" stroke-width="0.6" textLength="1015.6" lengthAdjust="spacingAndGlyphs">Nissan’s Software Update fixed about half of reported battery degradation.</text>
</g></svg>
</body></html>
